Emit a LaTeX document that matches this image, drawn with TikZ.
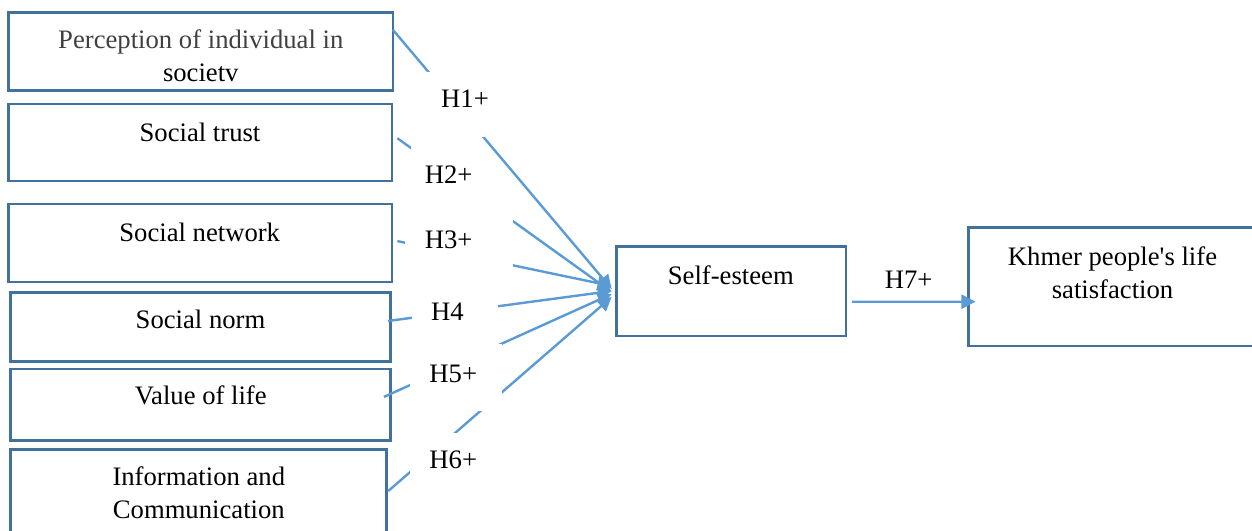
\documentclass[tikz,border=0pt]{standalone}
\usepackage{fontspec}
\setmainfont{Liberation Serif}
\usetikzlibrary{arrows.meta,calc}
\definecolor{boxc}{HTML}{41719C}
\definecolor{linec}{HTML}{5B9BD5}
\definecolor{perc}{HTML}{404040}
\begin{document}
\begin{tikzpicture}[x=0.75pt,y=-0.75pt,
  box/.style={draw=boxc, line width=1.9pt, inner sep=0pt},
  gapbox/.style={fill=white, inner sep=0pt},
  txt/.style={font=\fontsize{20pt}{24.5pt}\selectfont, inner sep=0pt, text height=13.2pt, text depth=0pt},
  mtxt/.style={font=\fontsize{20pt}{24.5pt}\selectfont, inner sep=0pt, align=center, anchor=north},
  conn/.style={draw=linec, line width=1.8pt, -{Triangle[length=10.5pt,width=10.5pt]}}
]
\useasboundingbox (0,0) rectangle (1252,531);
\clip (0,0) rectangle (1252,531);

% boxes
\node[box, minimum width=288.5pt, minimum height=58.5pt] (b1) at (200.6,51.7) {};
\node[box, minimum width=287.8pt, minimum height=57.75pt] (b2) at (200.2,142.5) {};
\node[box, minimum width=287.8pt, minimum height=58.3pt] (b3) at (200.2,242.9) {};
\node[box, minimum width=285pt, minimum height=51.75pt] (b4) at (200.7,327.2) {};
\node[box, minimum width=285pt, minimum height=53.5pt] (b5) at (200.7,404.7) {};
\node[box, minimum width=282pt, minimum height=71.8pt] (b6) at (198.7,497.2) {};
\node[box, minimum width=172pt, minimum height=67pt] (se) at (731.3,291.3) {};
\node[box, minimum width=217.3pt, minimum height=89pt] (kh) at (1113.2,286.7) {};

% box texts
\node[mtxt] (t1) at (200.8,29.5) {\textcolor{perc}{Perception of individual in}\\societv};
\node[txt] (t2) at (200,132.5) {Social trust};
\node[txt] (t3) at (199.7,232.5) {Social network};
\node[txt] (t4) at (200.5,320) {Social norm};
\node[txt] (t5) at (200.8,395.8) {Value of life};
\node[mtxt] (t6) at (198.8,466.6) {Information and\\Communication};
\node[txt] (t7) at (730.8,275.3) {Self-esteem};
\node[mtxt] (t8) at (1112.5,246.5) {Khmer people\textquotesingle s life\\satisfaction};

% connectors (lower layer)
\draw[conn] ($(b2.east)+(4,-4.3)$) -- ($(se.west)+(-3.7,0.7)$);
\draw[conn] ($(b3.east)+(4,-1.8)$) -- ($(se.west)+(-3.7,-5.3)$);
\draw[conn] ($(b4.east)+(-4,-6.2)$) -- ($(se.west)+(-3.7,-0.3)$);
\draw[conn] ($(b5.east)+(-8,-7.8)$) -- ($(se.west)+(-3.7,2.7)$);
\draw[conn] ($(b6.east)+(0.3,-6.2)$) -- ($(se.west)+(-3.7,5.7)$);
\draw[conn] ($(se.east)+(4.7,10.4)$) -- ($(kh.west)+(8.4,15)$);

% label text boxes (borderless, white)
\node[gapbox, minimum width=76.5pt, minimum height=58.5pt] (g2) at (462,185) {};
\node[gapbox, minimum width=81pt, minimum height=33pt] (g3) at (459,250) {};
\node[gapbox, minimum width=64.5pt, minimum height=37.5pt] (g4) at (455,313) {};
\node[gapbox, minimum width=69.15pt, minimum height=50.6pt] (g5) at (455.6,377.75) {};
\node[gapbox, minimum width=67.5pt, minimum height=50.25pt] (g6) at (455,466.5) {};

\draw[conn] ($(b1.east)+(-1.3,-21.9)$) -- ($(se.west)+(-3.7,-2.3)$);
\node[gapbox, minimum width=82.5pt, minimum height=48.75pt] (g1) at (465,104.5) {};

% labels
\node[txt] (h1) at (465,98.7) {H1+};
\node[txt] (h2) at (448.7,175) {H2+};
\node[txt] (h3) at (448.7,239.6) {H3+};
\node[txt] (h4) at (447.5,311.2) {H4};
\node[txt] (h5) at (453.3,374) {H5+};
\node[txt] (h6) at (453.3,459.4) {H6+};
\node[txt] (h7) at (908.7,279.2) {H7+};
\end{tikzpicture}
\end{document}
